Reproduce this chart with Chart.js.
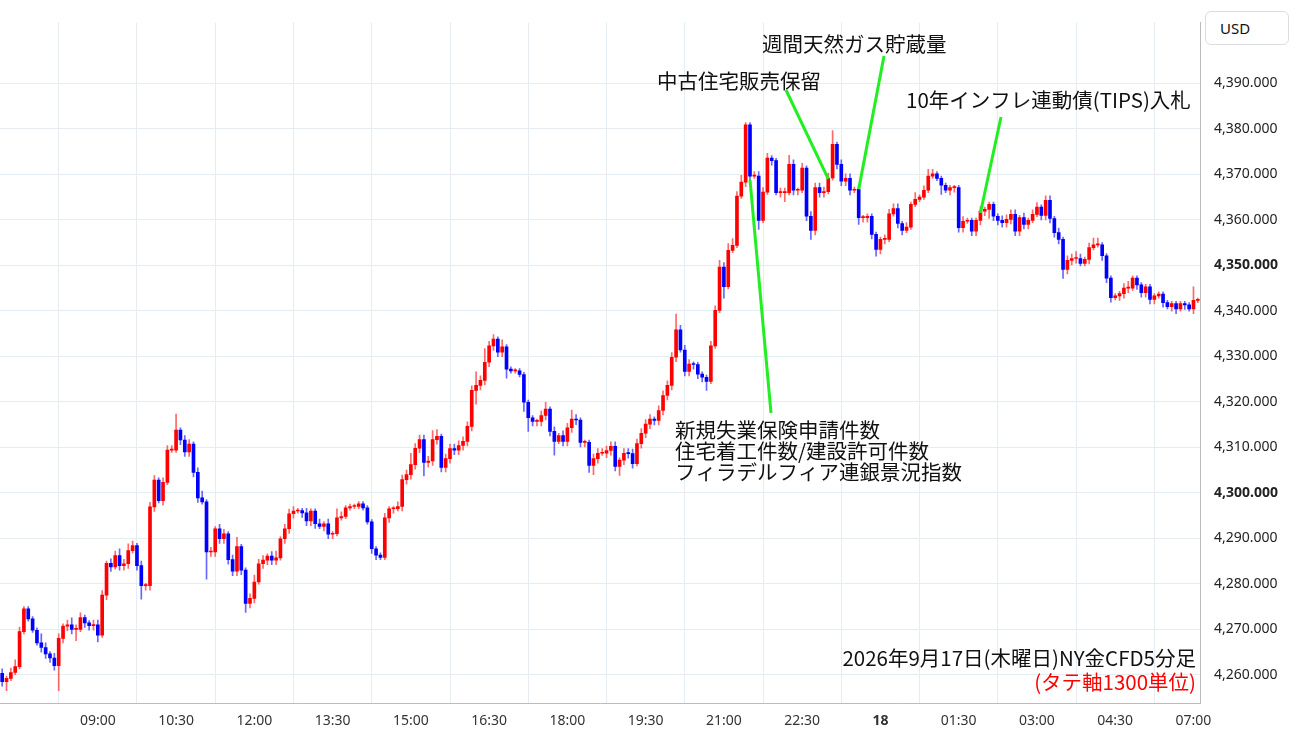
<!DOCTYPE html>
<html><head><meta charset="utf-8">
<script src="https://cdn.jsdelivr.net/npm/chart.js@4.4.1/dist/chart.umd.min.js"></script>
<style>html,body{margin:0;padding:0;background:#fff}#w{position:relative;width:1300px;height:745px}
#usd{position:absolute;left:1205px;top:11px;width:84px;height:34px;border:1px solid #d8dde2;border-radius:6px;box-sizing:border-box;font:15px 'Noto Sans',sans-serif;line-height:32px;padding-left:14px;color:#111;background:#fff}</style>
</head><body><div id="w"><canvas id="c" width="1300" height="745"></canvas><div id="usd">USD</div></div>
<script>
const closes = [
4258.5,4259.2,4260.5,4261.8,4269.5,4274.5,4272.3,4269.8,4267.0,4266.0,
4264.6,4263.7,4262.0,4268.0,4270.7,4271.0,4270.0,4270.0,4272.6,4271.4,
4270.8,4271.0,4268.7,4277.5,4284.5,4283.7,4286.2,4284.0,4284.4,4287.3,
4288.4,4284.0,4279.6,4279.6,4296.9,4302.8,4298.3,4302.3,4309.4,4309.4,
4313.8,4311.6,4309.0,4310.7,4304.5,4298.9,4298.0,4287.0,4287.0,4292.1,
4289.9,4291.0,4285.3,4282.8,4288.2,4283.0,4275.7,4276.8,4280.4,4284.4,
4285.2,4286.1,4285.2,4285.7,4289.9,4292.1,4295.4,4296.0,4296.1,4295.6,
4293.8,4296.0,4293.2,4292.6,4293.2,4290.9,4291.0,4294.5,4294.8,4296.7,
4297.0,4297.0,4297.6,4296.7,4293.6,4287.7,4286.3,4285.8,4294.5,4296.5,
4296.5,4297.0,4302.9,4304.0,4306.2,4309.8,4311.7,4306.7,4307.0,4311.7,
4312.4,4305.6,4307.5,4309.7,4309.4,4310.4,4311.3,4314.6,4322.5,4323.6,
4324.7,4328.7,4332.3,4333.8,4330.9,4332.1,4327.2,4326.8,4326.8,4326.0,
4319.9,4316.5,4315.7,4315.7,4317.0,4318.4,4313.5,4311.3,4312.6,4311.3,
4314.3,4316.2,4316.0,4311.1,4311.1,4306.0,4307.5,4308.7,4308.7,4309.3,
4310.2,4305.8,4307.2,4308.7,4308.6,4306.4,4310.8,4313.1,4315.1,4316.2,
4315.9,4318.1,4321.4,4323.6,4329.8,4335.8,4331.4,4326.7,4328.3,4328.2,
4326.1,4325.4,4324.5,4332.3,4340.1,4349.6,4345.3,4353.3,4354.4,4365.2,
4368.3,4380.9,4369.6,4369.6,4359.9,4366.1,4373.6,4373.0,4366.0,4366.0,
4366.0,4372.2,4366.5,4366.5,4371.4,4360.8,4357.7,4367.1,4366.0,4366.2,
4369.2,4376.6,4372.2,4368.5,4369.1,4366.5,4366.7,4360.5,4360.5,4360.8,
4356.8,4353.5,4355.7,4355.7,4361.3,4362.5,4359.2,4357.7,4358.4,4363.4,
4364.5,4365.0,4366.5,4369.6,4370.1,4369.1,4367.6,4366.5,4367.1,4367.1,
4358.3,4359.7,4359.9,4357.5,4359.9,4361.9,4362.3,4363.4,4360.8,4359.9,
4359.4,4360.1,4361.2,4357.5,4360.5,4359.0,4359.9,4361.2,4362.8,4361.0,
4364.3,4360.3,4357.2,4355.7,4349.1,4351.1,4351.5,4351.5,4350.4,4351.3,
4353.9,4354.5,4354.5,4352.1,4347.2,4342.9,4343.3,4343.8,4345.0,4345.0,
4347.2,4345.7,4344.0,4345.3,4342.5,4343.3,4343.7,4341.8,4340.9,4341.6,
4340.4,4341.6,4341.3,4340.4,4342.3,4342.3];
const firstOpen = 4260.3;
const wickUp = [
1,0.5,1,1.5,1,0.5,0.5,0.5,0.5,2,
1,0.5,1,1,0.5,1,1.5,1,1,0.5,
0.5,1,1,1,0.5,1,1,1.5,1,1.5,
1,0.5,1,0.5,1,1,0.5,1,1,1,
3.5,0.5,1,1,0.5,1,1.5,0.5,1,0.5,
1,1,0.5,1,2,0.5,0.5,1,1.5,1,
1,0.5,1,1.5,0.5,1,1,1,0.5,0.5,
1,0.5,0.5,1,0.5,1,0.5,2,1,0.5,
0.5,0.5,0.5,0.5,0.5,0.5,0.5,0.5,1,0.5,
0.5,1,1,1,2.5,1,1,1,1,2,
1.5,0.5,1,1,1,1,1,1,1,3,
1,3,1,1,0.5,1.5,0.5,0.5,0.5,0.5,
0.5,0.5,0.5,0.5,1,1.5,0.5,1,0.5,1,
1,2,1,0.5,0.5,0.5,1,1,1,1,
1,1,0.5,1,1,1,1,1,1,1,
0.5,1,1,1,1,3.5,1,1,1,0.5,
0.5,0.5,0.5,1,1,1.5,1,1.5,1.5,1,
1.5,0.5,0.5,1,1,1,1,0.5,0.5,1,
1,2,1,0.5,1,0.5,1,1,1,1,
1,3,0.5,1,1,1,0.5,1,0.5,0.5,
0.5,0.5,0.5,1,1,1,1,0.5,1,0.5,
1.5,0.5,1,1.5,1,0.5,0.5,0.5,0.5,0.5,
0.5,1,0.5,0.5,0.5,1,0.5,0.5,0.5,0.5,
1,1,1,1,0.5,1,0.5,1,1,0.5,
1,1,0.5,1,0.5,1,1,1.5,1,0.5,
1,1.5,1.5,0.5,0.5,0.5,0.5,0.5,1,1.5,
0.5,0.5,0.5,0.5,0.5,0.5,0.5,0.5,0.5,0.5,
0.5,0.5,0.5,0.5,3,0.5];
const wickDn = [
1,2,0.5,0.5,0.5,0.5,0.5,0.5,0.5,1,
1,1,1,5.5,1,1,1,2.5,0.5,1,
1,1,1.5,0.5,1,1,0.5,1,1,1,
0.5,1,3,1,1,1,0.5,1,0.5,0.5,
0.5,1,1,1,1,1,0.5,6,1,1,
1,1,1,1,1,1,2,1,1,0.5,
1,1,1,1,0.5,1,1,1,0.5,1,
1,1,1,0.5,1,1,1,0.5,0.5,0.5,
0.5,0.5,0.5,0.5,0.5,1,1,0.5,0.5,1,
1,0.5,1,1,1,1,1,3,1,1,
1,1,1,1,1,1,1,1,1,3,
1,1,1,1,1,1,2,0.5,0.5,0.5,
2,3,1,1,1,1,1,3,0.5,1,
1,1,1,1,1,1.5,2,1,0.5,1,
1,1,2,1,1,1,0.5,1,1,1,
1,1,1,1,1,1,0.5,1,1,1,
1,1,2,0.5,0.5,0.5,2.5,0.5,0.5,0.5,
0.5,1,1,0.5,2,0.5,0.5,1,0.5,1,
2,0.5,1,1,0.5,1,2,1,1,1,
0.5,0.5,1,1,1,1,0.5,1.5,1,1,
1,1.5,1,1,0.5,0.5,1,1,0.5,0.5,
0.5,0.5,0.5,0.5,0.5,0.5,2,0.5,1,1,
1,1,0.5,1,1,1,1,2,1,1,
1,1,1,1,1,1,1,0.5,0.5,1,
1,1,1,1,2,1,1,1,0.5,0.5,
1,0.5,0.5,1,1,1,0.5,1,1,1,
0.5,1,1,1,1,1,0.5,1,0.5,1,
1,0.5,1,0.5,1,0.5];
const xTickLabels = ['09:00','10:30','12:00','13:30','15:00','16:30','18:00','19:30','21:00','22:30','18','01:30','03:00','04:30','07:00'];
const yTicks = [4260,4270,4280,4290,4300,4310,4320,4330,4340,4350,4360,4370,4380,4390];
const boldTicks = [4300,4350];
const notes = [
  {text:['新規失業保険申請件数','住宅着工件数/建設許可件数','フィラデルフィア連銀景況指数'], idx:172, price:4368.8},
  {text:['中古住宅販売保留'], idx:190, price:4369.0},
  {text:['週間天然ガス貯蔵量'], idx:197, price:4366.7},
  {text:['10年インフレ連動債(TIPS)入札'], idx:225, price:4361.5}
];
const footText = '2026年9月17日(木曜日)NY金CFD5分足';
const footNote = '(タテ軸1300単位)';

const labels = [];
{ let m = 7*60+10;
  for (let i=0;i<closes.length;i++){
    let mm = m % 1440; if (mm>=360 && mm<420 && i>100){ m += 60; mm = m%1440; }
    const h = Math.floor(mm/60), mi = mm%60;
    let s = String(h).padStart(2,'0')+':'+String(mi).padStart(2,'0');
    if (s==='00:00') s='18';
    labels.push(s); m += 5; }
}
const opens = closes.map((c,i)=> i===0 ? firstOpen : closes[i-1]);
const bodies = closes.map((c,i)=>[opens[i], c]);
const wicks = closes.map((c,i)=>[Math.min(opens[i],c)-wickDn[i], Math.max(opens[i],c)+wickUp[i]]);
const col = closes.map((c,i)=> c>=opens[i] ? '#ff0000' : '#0000ff');
const wcol = closes.map((c,i)=> c>=opens[i] ? 'rgba(255,40,40,0.7)' : 'rgba(40,40,255,0.7)');
const FONT = "'Noto Sans CJK JP','Noto Sans',sans-serif";

const notePlugin = {
  id:'notes',
  afterDatasetsDraw(chart){
    const {ctx, scales:{x,y}} = chart;
    ctx.save();
    ctx.font = "20.5px "+FONT; ctx.fillStyle='#111'; ctx.textBaseline='alphabetic';
    const pos = [
      {tx:675, ty:438, lx:771, ly:413},
      {tx:657, ty:89, lx:786, ly:90},
      {tx:762, ty:52, lx:884, ly:56},
      {tx:906, ty:108, lx:1001, ly:117}
    ];
    notes.forEach((n,k)=>{
      const p = pos[k];
      ctx.strokeStyle='#22ee22'; ctx.lineWidth=3;
      ctx.beginPath(); ctx.moveTo(p.lx,p.ly); ctx.lineTo(x.getPixelForValue(n.idx), y.getPixelForValue(n.price)); ctx.stroke();
      n.text.forEach((t,j)=>{ ctx.textAlign='left'; ctx.fillText(t,p.tx,p.ty+j*21); });
    });
    ctx.textAlign='right';
    ctx.fillStyle='#111'; ctx.fillText(footText,1196,666);
    ctx.fillStyle='#ff0000'; ctx.fillText(footNote,1196,690);
    ctx.restore();
  }
};

new Chart(document.getElementById('c'), {
  type:'bar',
  data:{labels, datasets:[
    {data:wicks, backgroundColor:wcol, barThickness:1, grouped:false, order:2},
    {data:bodies, backgroundColor:col, barThickness:3, grouped:false, minBarLength:1, order:1}
  ]},
  options:{
    responsive:false, animation:false,
    layout:{padding:0},
    plugins:{legend:{display:false}, tooltip:{enabled:false}},
    scales:{
      x:{
        grid:{color:ctx=> (ctx.tick && xTickLabels.includes(labels[ctx.tick.value])) ? '#e6edf2' : 'rgba(0,0,0,0)', drawTicks:false},
        border:{color:'#bbb'},
        ticks:{autoSkip:false, maxRotation:0, padding:10, color:'#333',
          font:ctx=>({family:"'Noto Sans',sans-serif", size:14, weight: labels[ctx.tick && ctx.tick.value]==='18' ? 'bold':'normal'}),
          callback:(v)=> xTickLabels.includes(labels[v]) ? labels[v] : null},
        afterFit:s=>{s.height=42;}
      },
      y:{
        position:'right', min:4253.8, max:4403.4,
        afterBuildTicks:s=>{ s.ticks = yTicks.map(v=>({value:v})); },
        grid:{color:'#e6edf2', drawTicks:false},
        border:{color:'#bbb'},
        ticks:{padding:14, color:'#222',
          font:ctx=>({family:"'Noto Sans',sans-serif", size:14, weight: boldTicks.includes(ctx.tick && ctx.tick.value)?'bold':'normal'}),
          callback:v=> v.toLocaleString('en-US',{minimumFractionDigits:3, maximumFractionDigits:3})},
        afterFit:s=>{s.width=100;}
      }
    }
  },
  plugins:[notePlugin]
});
</script></body></html>
